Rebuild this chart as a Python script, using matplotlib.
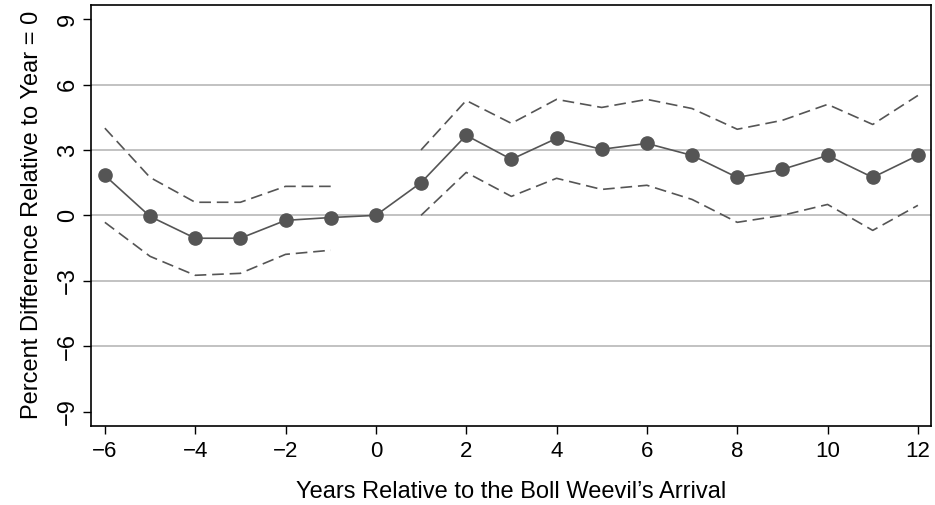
import numpy as np
import matplotlib
matplotlib.use("Agg")
import matplotlib.pyplot as plt

plt.rcParams["font.family"] = ["Liberation Sans", "DejaVu Sans"]

years = [-6, -5, -4, -3, -2, -1, 0, 1, 2, 3, 4, 5, 6, 7, 8, 9, 10, 11, 12]
estimate = [1.83, -0.05, -1.05, -1.05, -0.23, -0.1, 0.0, 1.5, 3.67, 2.57, 3.53,
            3.03, 3.3, 2.75, 1.74, 2.11, 2.75, 1.74, 2.75]
# confidence bands (no band at year 0)
upper = [4.0, 1.74, 0.6, 0.6, 1.33, 1.33, np.nan, 3.0, 5.27, 4.22, 5.32,
         4.95, 5.32, 4.9, 3.95, 4.36, 5.09, 4.17, 5.5]
lower = [-0.32, -1.88, -2.75, -2.66, -1.79, -1.6, np.nan, 0.0, 1.97, 0.87, 1.7,
         1.19, 1.38, 0.73, -0.32, 0.0, 0.5, -0.69, 0.46]

xticks = list(range(-6, 13, 2))
yticks = [-9, -6, -3, 0, 3, 6, 9]
grid_lines = [-6, -3, 0, 3, 6]

col = "#555555"

fig = plt.figure(figsize=(9.35, 5.05), dpi=100)
ax = fig.add_axes([91.3 / 935, 79.3 / 505, 839.7 / 935, 420.7 / 505])

for g in grid_lines:
    ax.axhline(g, color="#bdbdbd", lw=1.3, zorder=0)

ax.plot(years, upper, ls=(0, (7, 3.5)), color=col, lw=1.2)
ax.plot(years, lower, ls=(0, (7, 3.5)), color=col, lw=1.2)
ax.plot(years, estimate, color=col, lw=1.2, marker="o", ms=9.5)

ax.set_xlim(-6.30, 12.29)
ax.set_ylim(-9.65, 9.65)
ax.set_xticks(xticks)
ax.set_yticks(yticks)
ax.set_xticklabels([str(t).replace("-", "\u2212") for t in xticks])
ax.set_yticklabels([str(t).replace("-", "\u2212") for t in yticks],
                   rotation=90, va="center")
ax.tick_params(axis="x", direction="out", length=6, width=1, labelsize=16, pad=5)
ax.tick_params(axis="y", direction="out", length=6, width=1, labelsize=17, pad=3)

for s in ["left", "bottom", "right", "top"]:
    ax.spines[s].set_linewidth(1.2)

ax.set_xlabel("Years Relative to the Boll Weevil\u2019s Arrival", fontsize=17, labelpad=14)
ax.set_ylabel("Percent Difference Relative to Year = 0", fontsize=17, labelpad=10)

fig.savefig("out.png", dpi=100)
plt.close(fig)
